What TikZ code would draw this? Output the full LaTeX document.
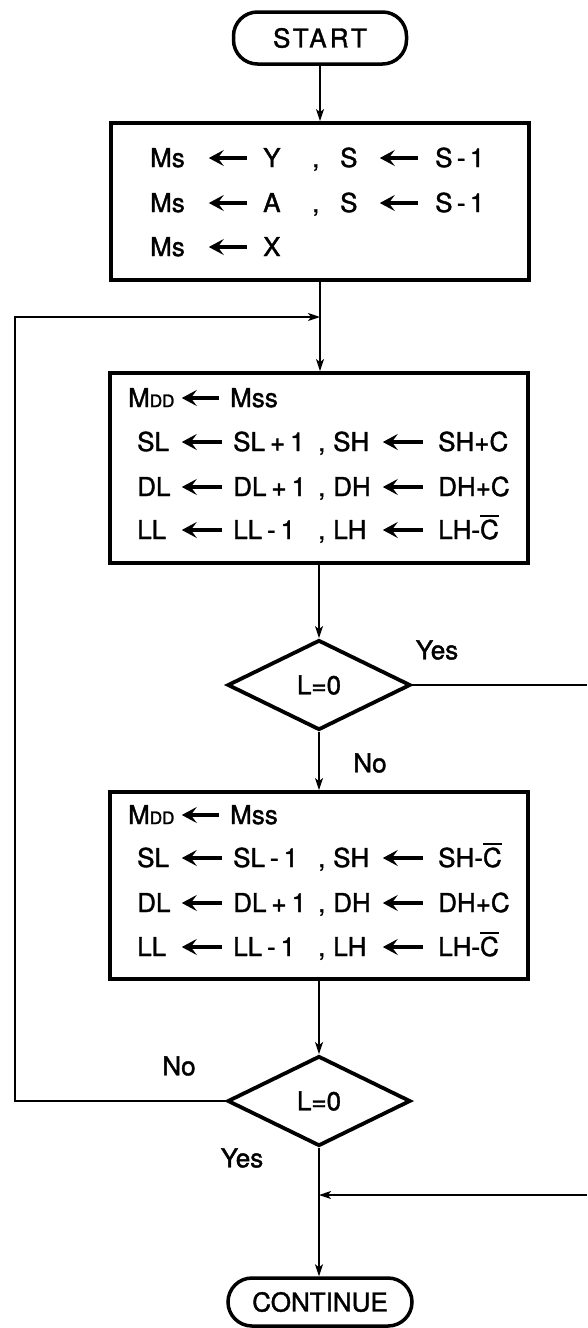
\documentclass[tikz,border=0pt]{standalone}
\usepackage{fontspec}
\setmainfont{TeX Gyre Heros}[FakeBold=1.5]
\usetikzlibrary{arrows.meta,shapes.geometric}
\newcommand{\fs}{\fontsize{26pt}{30pt}\selectfont}
\newcommand{\sm}[1]{{\fontsize{17pt}{17pt}\selectfont #1}}
\newcommand{\la}[1][38pt]{\tikz[baseline=-9pt]\draw[line width=3.2pt,-{Stealth[length=15pt,width=16pt,inset=6pt]}] (#1,0pt) -- (0pt,0pt);}
\newcommand{\cbar}{\leavevmode\setbox0=\hbox{C}\rlap{\raisebox{\dimexpr\ht0+3pt\relax}{\rule{\wd0}{2pt}}}C}
\tikzset{
 conn/.style={line width=1.6pt,-{Stealth[length=12pt,width=8pt,inset=3pt]}},
 plain/.style={line width=1.6pt},
 proc/.style={draw,line width=3.8pt,minimum width=418pt,inner sep=0pt},
 term/.style={draw,line width=3.5pt,rounded corners=24pt,inner sep=0pt,font=\fs},
 dec/.style={diamond,draw,line width=3.8pt,minimum width=183pt,minimum height=90pt,inner sep=0pt,font=\fs},
 row/.style={anchor=base west,inner sep=0pt,font=\fs},
 lab/.style={inner sep=0pt,font=\fs},
}
\begin{document}
\begin{tikzpicture}[x=1pt,y=-1pt]
\useasboundingbox[fill=white] (0,0) rectangle (587,1328);
% terminals
\node[term,minimum width=173pt,minimum height=52pt] (start) at (320,38) {\addfontfeature{LetterSpace=12}START};
\node[term,minimum width=184pt,minimum height=48pt] (cont) at (320,1302) {CONTINUE};
% process boxes
\node[proc,minimum height=157pt] (b1) at (320,201.5) {};
\node[proc,minimum height=190pt] (b2) at (319,468) {};
\node[proc,minimum height=187pt] (b3) at (319,885.5) {};
% decisions
\node[dec] (d1) at (319,685) {L=0};
\node[dec] (d2) at (319,1101) {L=0};
% box 1 text
\node[row] (b1r1) at (150,167) {\makebox[57pt][l]{Ms}\makebox[56pt][l]{\la}\makebox[49pt][l]{Y}\makebox[28pt][l]{,}\makebox[38pt][l]{S}\makebox[57pt][l]{\la}S\,-\,1};
\node[row] (b1r2) at (150,212) {\makebox[57pt][l]{Ms}\makebox[56pt][l]{\la}\makebox[49pt][l]{A}\makebox[28pt][l]{,}\makebox[38pt][l]{S}\makebox[57pt][l]{\la}S\,-\,1};
\node[row] (b1r3) at (150,256) {\makebox[57pt][l]{Ms}\makebox[56pt][l]{\la}X};
% box 2 text
\node[row] (b2r1) at (128,407) {\makebox[52pt][l]{M\sm{DD}}\makebox[50pt][l]{\la[37pt]}Mss};
\node[row] (b2r2) at (137,451) {\makebox[43pt][l]{SL}\makebox[53pt][l]{\la[40pt]}\makebox[85pt][l]{SL\hspace{5pt}+\hspace{5pt}1}\makebox[15pt][l]{,}\makebox[48pt][l]{SH}\makebox[57pt][l]{\la[40pt]}SH+C};
\node[row] (b2r3) at (137,496) {\makebox[43pt][l]{DL}\makebox[53pt][l]{\la[40pt]}\makebox[85pt][l]{DL\hspace{5pt}+\hspace{5pt}1}\makebox[15pt][l]{,}\makebox[48pt][l]{DH}\makebox[57pt][l]{\la[40pt]}DH+C};
\node[row] (b2r4) at (137,539) {\makebox[43pt][l]{LL}\makebox[53pt][l]{\la[40pt]}\makebox[85pt][l]{LL\hspace{5pt}-\hspace{5pt}1}\makebox[15pt][l]{,}\makebox[48pt][l]{LH}\makebox[57pt][l]{\la[40pt]}LH-\cbar};
% box 3 text
\node[row] (b3r1) at (128,824) {\makebox[52pt][l]{M\sm{DD}}\makebox[50pt][l]{\la[37pt]}Mss};
\node[row] (b3r2) at (137,867) {\makebox[43pt][l]{SL}\makebox[53pt][l]{\la[40pt]}\makebox[85pt][l]{SL\hspace{5pt}-\hspace{5pt}1}\makebox[15pt][l]{,}\makebox[48pt][l]{SH}\makebox[57pt][l]{\la[40pt]}SH-\cbar};
\node[row] (b3r3) at (137,912) {\makebox[43pt][l]{DL}\makebox[53pt][l]{\la[40pt]}\makebox[85pt][l]{DL\hspace{5pt}+\hspace{5pt}1}\makebox[15pt][l]{,}\makebox[48pt][l]{DH}\makebox[57pt][l]{\la[40pt]}DH+C};
\node[row] (b3r4) at (137,956) {\makebox[43pt][l]{LL}\makebox[53pt][l]{\la[40pt]}\makebox[85pt][l]{LL\hspace{5pt}-\hspace{5pt}1}\makebox[15pt][l]{,}\makebox[48pt][l]{LH}\makebox[57pt][l]{\la[40pt]}LH-\cbar};
% labels
\node[lab] (yes1) at (437,650) {Yes};
\node[lab] (no1) at (370,763) {No};
\node[lab] (no2) at (179,1066) {No};
\node[lab] (yes2) at (242,1158) {Yes};
% coordinates
\coordinate (j1) at (320,317);
\coordinate (lb) at (15,1101);
\coordinate (lt) at (15,317);
\coordinate (r1) at (587,685);
\coordinate (r2) at (587,1195);
\coordinate (j2) at (320,1195);
% connectors
\draw[conn] (start.south) -- (b1.north);
\draw[plain] (b1.south) -- (j1);
\draw[conn] (j1) -- (b2.north -| j1);
\draw[conn] (d2.west) -- (lb) -- (lt) -- (j1);
\draw[conn] (b2.south) -- (d1.north);
\draw[plain] (d1.east) -- (r1);
\draw[conn] (d1.south) -- (b3.north);
\draw[conn] (b3.south) -- (d2.north);
\draw[plain] (d2.south) -- (d2.south |- j2);
\draw[conn] (r2) -- (d2.south |- j2);
\draw[conn] (d2.south |- j2) -- (cont.north -| d2.south);
\end{tikzpicture}
\end{document}
